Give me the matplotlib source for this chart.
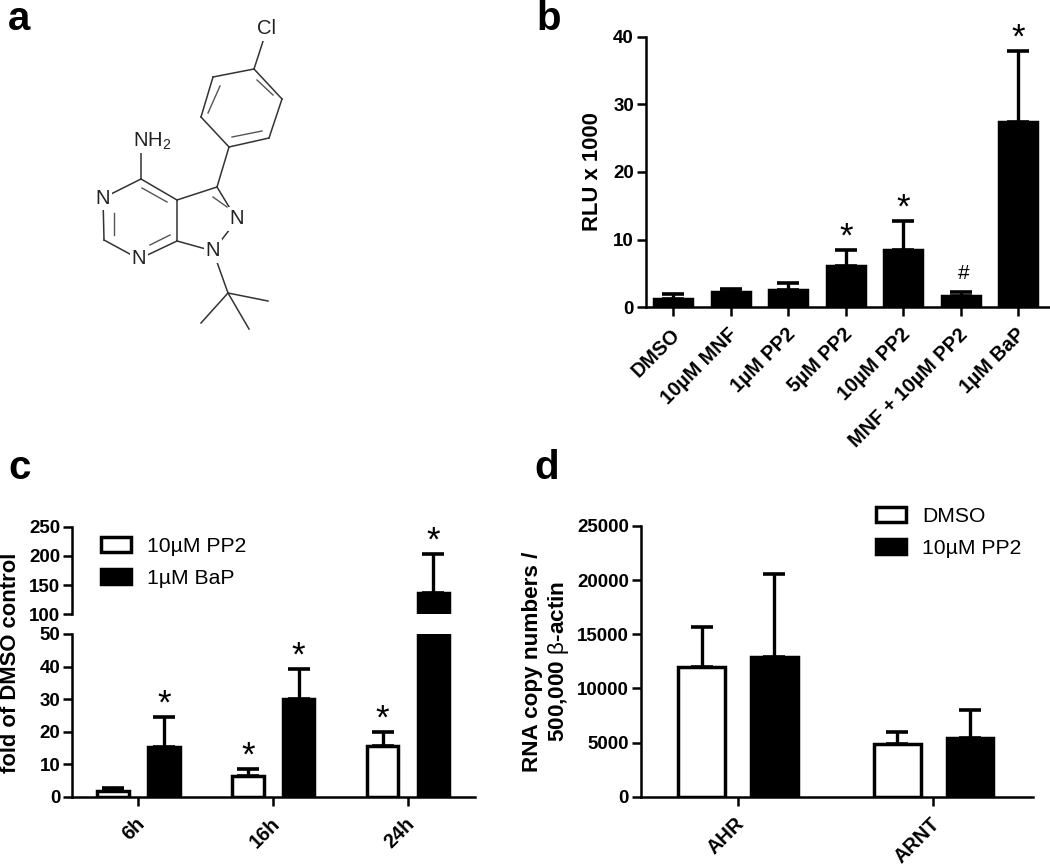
#make the 4 panel figure: structure of PP2 and three bar charts
import matplotlib
matplotlib.use('Agg')
import matplotlib.pyplot as plt
from matplotlib.patches import Patch
from matplotlib.transforms import ScaledTranslation
import numpy as np

plt.rcParams['font.family'] = ['Liberation Sans', 'DejaVu Sans']
plt.rcParams['mathtext.fontset'] = 'custom'
plt.rcParams['mathtext.rm'] = 'Liberation Sans'
plt.rcParams['mathtext.default'] = 'regular'

#panel b
b_labels = ['DMSO', '10µM MNF', '1µM PP2', '5µM PP2', '10µM PP2', 'MNF + 10µM PP2', '1µM BaP']
b_means = [1.3, 2.2, 2.5, 6.1, 8.5, 1.7, 27.4]
b_upper = [2.0, 2.65, 3.6, 8.5, 12.7, 2.3, 37.9]
b_marks = ['', '', '', '*', '*', '#', '*']
b_yticks = [0, 10, 20, 30, 40]

#panel c
c_labels = ['6h', '16h', '24h']
c_pp2 = [1.85, 6.5, 15.7]
c_pp2_upper = [2.7, 8.5, 19.8]
c_bap = [15.2, 30, 137]
c_bap_upper = [24.6, 39.1, 202.7]
c_low_ticks = [0, 10, 20, 30, 40, 50]
c_high_ticks = [100, 150, 200, 250]

#panel d
d_labels = ['AHR', 'ARNT']
d_dmso = [12000, 4865]
d_dmso_upper = [15640, 5940]
d_pp2 = [12870, 5450]
d_pp2_upper = [20535, 8000]
d_yticks = [0, 5000, 10000, 15000, 20000, 25000]

#panel a, atoms of the molecule in picture pixels
atoms = {'Cl': (267, 29), 'c1': (254, 69), 'c2': (213, 77), 'c3': (201, 117),
         'c4': (229, 147), 'c5': (269, 138), 'c6': (282, 99), 'c7': (217, 187),
         'c8': (177, 200), 'c9': (177, 241), 'n2': (237, 220), 'n1': (213, 251),
         'c10': (141, 179), 'nh2': (141, 140), 'n3': (103, 198), 'c11': (104, 240),
         'n4': (139, 259), 'c12': (228, 293), 'm1': (268, 301), 'm2': (201, 323),
         'm3': (249, 329)}
bonds = [('Cl', 'c1'), ('c1', 'c2'), ('c2', 'c3'), ('c3', 'c4'), ('c4', 'c5'), ('c5', 'c6'),
         ('c6', 'c1'), ('c4', 'c7'), ('c7', 'c8'), ('c8', 'c9'), ('c7', 'n2'), ('n2', 'n1'),
         ('n1', 'c9'), ('c8', 'c10'), ('c10', 'nh2'), ('c10', 'n3'), ('n3', 'c11'),
         ('c11', 'n4'), ('n4', 'c9'), ('n1', 'c12'), ('c12', 'm1'), ('c12', 'm2'), ('c12', 'm3')]
inner_bonds = [((220, 86), (208, 113)), ((257, 80), (273, 95)), ((232, 137), (262, 131)),
               ((142, 188), (167, 202)), ((114, 213), (114, 235)), ((150, 245), (170, 235)),
               ((213, 197), (227, 207))]
atom_labels = [('Cl', 267, 29), ('N', 103, 198), ('N', 139, 259), ('N', 237, 219), ('N', 213, 251)]

W, H = 1050, 865
fig = plt.figure(figsize=(W / 100, H / 100), dpi=100)


def px_axes(left, top, right, bottom):
    #axes placed by picture pixels
    return fig.add_axes([left / W, 1 - bottom / H, (right - left) / W, (bottom - top) / H])


def style(ax, xticks=None, xlabels=None):
    for s in ['top', 'right']:
        ax.spines[s].set_visible(False)
    for s in ['left', 'bottom']:
        ax.spines[s].set_linewidth(1.8)
    ax.tick_params(axis='y', width=1.8, length=6.5, labelsize=13.5, pad=2)
    ax.tick_params(axis='x', width=1.8, length=6.5, pad=6)
    for t in ax.get_yticklabels():
        t.set_fontweight('bold')
    if xticks is not None:
        ax.set_xticks(xticks)
        ax.set_xticklabels(xlabels, rotation=45, ha='right', va='top',
                           rotation_mode='anchor', fontweight='bold', fontsize=14.3)
        #labels sit a little to the left of their ticks
        shift = ScaledTranslation(-3 / 100, 0, fig.dpi_scale_trans)
        for t in ax.get_xticklabels():
            t.set_transform(t.get_transform() + shift)


def bars(ax, x, means, upper, width, color):
    yerr = [np.zeros(len(means)), np.array(upper) - np.array(means)]
    ax.errorbar(x, means, yerr=yerr, fmt='none', ecolor='black', elinewidth=2.4,
                capsize=8, capthick=2.6, zorder=1)
    ax.bar(x, means, width=width, color=color, edgecolor='black', linewidth=2.5, zorder=2)


def mark(ax, x, y, text):
    #stars and hashes sit above the error bar caps
    if text == '#':
        ax.annotate(text, (x, y), xytext=(2, 9), textcoords='offset points',
                    ha='center', va='baseline', fontsize=15)
    elif text == '*':
        ax.annotate(text, (x, y), xytext=(0, 2.5), textcoords='offset points',
                    ha='center', va='baseline', fontsize=25, annotation_clip=False)


def legend(ax, labels, colors, anchor):
    handles = [Patch(facecolor=c, edgecolor='black', linewidth=2.5) for c in colors]
    ax.legend(handles, labels, loc='upper left', frameon=False, fontsize=15.2,
              bbox_to_anchor=(anchor[0] / W, 1 - anchor[1] / H), bbox_transform=fig.transFigure,
              handlelength=1.4, handleheight=0.7, handletextpad=0.78, labelspacing=0.62,
              borderpad=0, borderaxespad=0)


#panel a
ax_a = fig.add_axes([0, 0, 1, 1])
ax_a.set_xlim(0, W)
ax_a.set_ylim(H, 0)
ax_a.axis('off')
for p, q in bonds:
    ax_a.plot([atoms[p][0], atoms[q][0]], [atoms[p][1], atoms[q][1]], color='#333333', lw=1.1)
for p, q in inner_bonds:
    ax_a.plot([p[0], q[0]], [p[1], q[1]], color='#555555', lw=1.0)
for name, x, y in atom_labels:
    ax_a.text(x, y, name, ha='center', va='center', fontsize=14.5, color='#222222',
              bbox=dict(facecolor='white', edgecolor='none', pad=1.5))
ax_a.text(133, 141, 'NH$_2$', ha='left', va='center', fontsize=14.5, color='#222222',
          bbox=dict(facecolor='white', edgecolor='none', pad=1.0))

#panel b
ax_b = px_axes(645.7, 36.7, 1050, 307.3)
x_b = np.arange(1, 8)
bars(ax_b, x_b, b_means, b_upper, 0.66, 'black')
ax_b.set_xlim(0.52, 7.55)
ax_b.set_ylim(0, 40)
ax_b.set_yticks(b_yticks)
style(ax_b, x_b, b_labels)
for i in range(7):
    mark(ax_b, x_b[i], b_upper[i], b_marks[i])
ax_b.set_ylabel('RLU x 1000', fontweight='bold', fontsize=15.8, va='center')
ax_b.yaxis.set_label_coords((592 - 645.7) / (1050 - 645.7), 0.5)

#panel c, broken y axis so two axes
ax_c = px_axes(72, 634, 475, 796.7)
ax_c2 = px_axes(72, 526.7, 475, 614.3)
x_c = np.arange(3)
for ax in [ax_c, ax_c2]:
    bars(ax, x_c - 0.187, c_pp2, c_pp2_upper, 0.234, 'white')
    bars(ax, x_c + 0.189, c_bap, c_bap_upper, 0.234, 'black')
    ax.set_xlim(-0.492, 2.498)
ax_c.set_ylim(0, 50)
ax_c.set_yticks(c_low_ticks)
ax_c2.set_ylim(100, 250)
ax_c2.set_yticks(c_high_ticks)
style(ax_c, x_c, c_labels)
style(ax_c2)
ax_c2.spines['bottom'].set_visible(False)
ax_c2.set_xticks([])
ax_c2.patch.set_alpha(0)
for i in range(3):
    mark(ax_c, x_c[i] - 0.187, c_pp2_upper[i], '*' if i > 0 else '')
    if i < 2:
        mark(ax_c, x_c[i] + 0.189, c_bap_upper[i], '*')
mark(ax_c2, x_c[2] + 0.189, c_bap_upper[2], '*')
ax_c.set_ylabel('fold of DMSO control', fontweight='bold', fontsize=15.8, va='center')
ax_c.yaxis.set_label_coords((11 - 72) / (475 - 72), 0.825)
legend(ax_c2, ['10µM PP2', '1µM BaP'], ['white', 'black'], (101, 537))

#panel d
ax_d = px_axes(640.7, 526, 1032.7, 796.7)
x_d = np.arange(2)
bars(ax_d, x_d - 0.184, d_dmso, d_dmso_upper, 0.238, 'white')
bars(ax_d, x_d + 0.188, d_pp2, d_pp2_upper, 0.238, 'black')
ax_d.set_xlim(-0.496, 1.508)
ax_d.set_ylim(0, 25000)
ax_d.set_yticks(d_yticks)
style(ax_d, x_d, d_labels)
ax_d.set_ylabel('RNA copy numbers /\n500,000 $\\mathrm{\\beta}$-actin', fontweight='bold',
                fontsize=16.2, va='center', linespacing=1.15)
ax_d.yaxis.set_label_coords((546.5 - 640.7) / (1032.7 - 640.7), 0.5)
legend(ax_d, ['DMSO', '10µM PP2'], ['white', 'black'], (876, 507))

#panel letters
for letter, x, y in [('a', 8, 30), ('b', 536, 30), ('c', 8, 479), ('d', 534, 479)]:
    fig.text(x / W, 1 - y / H, letter, fontsize=29, fontweight='bold', ha='left', va='baseline')

fig.savefig('out.png', dpi=100)
